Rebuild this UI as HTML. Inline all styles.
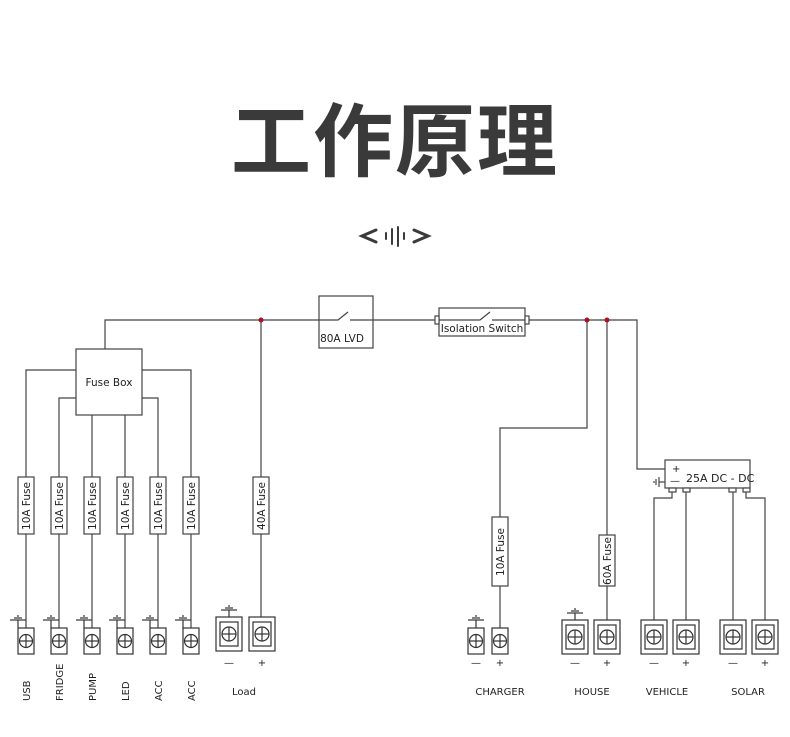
<!DOCTYPE html>
<html><head><meta charset="utf-8"><style>
html,body{margin:0;padding:0;background:#fff;}
svg{display:block;}
text{font-family:"DejaVu Sans","Liberation Sans",sans-serif;fill:#222;}
</style></head><body>
<svg width="790" height="737" viewBox="0 0 790 737" xmlns="http://www.w3.org/2000/svg">
<text x="395" y="170" text-anchor="middle" style="font-family:'Noto Sans CJK SC',sans-serif;font-weight:bold;font-size:80px;fill:#3a3a3a;letter-spacing:2px">工作原理</text>
<g stroke="#3a3a3a" stroke-width="3" fill="none" stroke-linecap="round">
<polyline points="376,230 362,236 376,242"/>
<polyline points="414,230 428,236 414,242"/>
<line x1="386" y1="233" x2="386" y2="239" stroke-width="2"/>
<line x1="392" y1="229" x2="392" y2="244" stroke-width="2"/>
<line x1="398" y1="227" x2="398" y2="246" stroke-width="2"/>
<line x1="404" y1="233" x2="404" y2="239" stroke-width="2"/>
</g>
<g stroke="#444" stroke-width="1.2" fill="none">
<!-- top bus -->
<polyline points="105,349 105,320 319,320"/>
<line x1="373" y1="320" x2="435" y2="320"/>
<polyline points="529,320 637,320 637,469 665,469"/>
<!-- LVD -->
<rect x="319" y="296" width="54" height="52" fill="#fff"/>
<polyline points="319,320 338,320 348,312"/><line x1="350" y1="320" x2="373" y2="320"/>
<!-- Isolation -->
<rect x="439" y="308" width="86" height="28" fill="#fff"/>
<rect x="435" y="316" width="4" height="8" fill="#fff"/><rect x="525" y="316" width="4" height="8" fill="#fff"/>
<polyline points="439,320 480,320 490,312"/><line x1="492" y1="320" x2="525" y2="320"/>
<!-- fuse box -->
<rect x="76" y="349" width="66" height="66" fill="#fff"/>
<polyline points="76,370 26,370 26,628"/>
<polyline points="76,398 59,398 59,628"/>
<line x1="92" y1="415" x2="92" y2="628"/>
<line x1="125" y1="415" x2="125" y2="628"/>
<polyline points="142,398 158,398 158,628"/>
<polyline points="142,370 191,370 191,628"/>
<line x1="261" y1="320" x2="261" y2="620"/>
<!-- charger / house -->
<polyline points="587,320 587,428 500,428 500,628"/>
<line x1="607" y1="320" x2="607" y2="620"/>
<!-- dc-dc -->
<rect x="665" y="460" width="85" height="28" fill="#fff"/>
<rect x="669" y="488" width="7" height="4" fill="#fff"/><rect x="683" y="488" width="7" height="4" fill="#fff"/>
<rect x="729" y="488" width="7" height="4" fill="#fff"/><rect x="743" y="488" width="7" height="4" fill="#fff"/>
<polyline points="672,492 672,498 654,498 654,620"/>
<line x1="686" y1="492" x2="686" y2="620"/>
<line x1="733" y1="492" x2="733" y2="620"/>
<polyline points="746,492 746,498 765,498 765,620"/>
<line x1="665" y1="482" x2="659" y2="482"/>
<line x1="659" y1="477" x2="659" y2="487"/><line x1="656" y1="479" x2="656" y2="485"/><line x1="654" y1="481" x2="654" y2="483"/>
<!-- fuses -->
<g fill="#fff">
<rect x="18" y="477" width="16" height="57"/><rect x="51" y="477" width="16" height="57"/>
<rect x="84" y="477" width="16" height="57"/><rect x="117" y="477" width="16" height="57"/>
<rect x="150" y="477" width="16" height="57"/><rect x="183" y="477" width="16" height="57"/>
<rect x="253" y="477" width="16" height="57"/>
<rect x="492" y="517" width="16" height="69"/>
<rect x="599" y="535" width="16" height="51"/>
</g>
</g>
<g fill="#b01020"><circle cx="261" cy="320" r="2.5"/><circle cx="587" cy="320" r="2.5"/><circle cx="607" cy="320" r="2.5"/></g>
<g font-size="10.5">
<text x="342" y="342" text-anchor="middle">80A LVD</text>
<text x="482" y="332" text-anchor="middle">Isolation Switch</text>
<text x="109" y="386" text-anchor="middle">Fuse Box</text>
<text x="672" y="472" font-size="10">+</text>
<text x="670" y="484" font-size="10">—</text>
<text x="686" y="482" font-size="11">25A DC - DC</text>
</g>
<g font-size="10.5" text-anchor="middle">
<text transform="translate(30,506) rotate(-90)">10A Fuse</text>
<text transform="translate(63,506) rotate(-90)">10A Fuse</text>
<text transform="translate(96,506) rotate(-90)">10A Fuse</text>
<text transform="translate(129,506) rotate(-90)">10A Fuse</text>
<text transform="translate(162,506) rotate(-90)">10A Fuse</text>
<text transform="translate(195,506) rotate(-90)">10A Fuse</text>
<text transform="translate(265,506) rotate(-90)">40A Fuse</text>
<text transform="translate(504,552) rotate(-90)">10A Fuse</text>
<text transform="translate(611,561) rotate(-90)">60A Fuse</text>
</g>
<defs>
<g id="st" stroke="#333" stroke-width="1.2" fill="#fff">
<rect x="-8" y="0" width="16" height="26"/><circle cx="0" cy="13" r="6.5"/>
<line x1="-6.5" y1="13" x2="6.5" y2="13"/><line x1="0" y1="6.5" x2="0" y2="19.5"/>
</g>
<g id="gs" stroke="#333" stroke-width="1.2" fill="none">
<line x1="-16" y1="-8" x2="0" y2="-8"/><line x1="-12" y1="-10" x2="-4" y2="-10"/><line x1="-9" y1="-12" x2="-7" y2="-12"/><line x1="-8" y1="-8" x2="-8" y2="0"/>
</g>
<g id="lt" stroke="#333" stroke-width="1.2" fill="#fff">
<rect x="-13" y="0" width="26" height="34"/><rect x="-9" y="5" width="18" height="24"/><circle cx="0" cy="17" r="7"/>
<line x1="-7" y1="17" x2="7" y2="17"/><line x1="0" y1="10" x2="0" y2="24"/>
</g>
<g id="lg" stroke="#333" stroke-width="1.2" fill="none">
<line x1="-8" y1="-7" x2="8" y2="-7"/><line x1="-4" y1="-9" x2="4" y2="-9"/><line x1="-1" y1="-11" x2="1" y2="-11"/><line x1="0" y1="-7" x2="0" y2="0"/>
</g>
</defs>
<g>
<use href="#st" x="26" y="628"/><use href="#gs" x="26" y="628"/>
<use href="#st" x="59" y="628"/><use href="#gs" x="59" y="628"/>
<use href="#st" x="92" y="628"/><use href="#gs" x="92" y="628"/>
<use href="#st" x="125" y="628"/><use href="#gs" x="125" y="628"/>
<use href="#st" x="158" y="628"/><use href="#gs" x="158" y="628"/>
<use href="#st" x="191" y="628"/><use href="#gs" x="191" y="628"/>
<use href="#lt" x="229" y="617"/><use href="#lg" x="229" y="617"/>
<use href="#lt" x="262" y="617"/>
<use href="#st" x="476" y="628"/><use href="#gs" x="484" y="628"/>
<use href="#st" x="500" y="628"/>
<use href="#lt" x="575" y="620"/><use href="#lg" x="575" y="620"/>
<use href="#lt" x="607" y="620"/>
<use href="#lt" x="654" y="620"/><use href="#lt" x="686" y="620"/>
<use href="#lt" x="733" y="620"/><use href="#lt" x="765" y="620"/>
</g>
<g font-size="10" text-anchor="middle">
<text x="229" y="666">—</text><text x="262" y="666">+</text>
<text x="476" y="666">—</text><text x="500" y="666">+</text>
<text x="575" y="666">—</text><text x="607" y="666">+</text>
<text x="654" y="666">—</text><text x="686" y="666">+</text>
<text x="733" y="666">—</text><text x="765" y="666">+</text>
<text x="244" y="695">Load</text>
<text x="500" y="695">CHARGER</text>
<text x="592" y="695">HOUSE</text>
<text x="667" y="695">VEHICLE</text>
<text x="748" y="695">SOLAR</text>
</g>
<g font-size="10" text-anchor="start">
<text transform="translate(30,701) rotate(-90)">USB</text>
<text transform="translate(63,701) rotate(-90)">FRIDGE</text>
<text transform="translate(96,701) rotate(-90)">PUMP</text>
<text transform="translate(129,701) rotate(-90)">LED</text>
<text transform="translate(162,701) rotate(-90)">ACC</text>
<text transform="translate(195,701) rotate(-90)">ACC</text>
</g>
</svg>
</body></html>
